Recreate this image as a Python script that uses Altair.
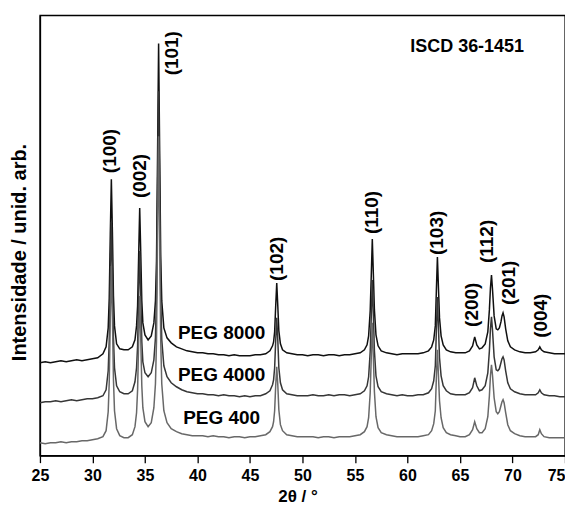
import altair as alt
import pandas as pd

# 2theta grid (degrees)
two_theta = [
    25.0, 25.5, 26.0, 26.5, 27.0, 27.5, 28.0, 28.5, 29.0, 29.5, 30.0, 30.5, 31.0, 31.3, 31.5, 31.6, 31.7, 31.8, 31.9, 32.0,
    32.1, 32.3, 32.6, 33.0, 33.4, 33.8, 34.05, 34.2, 34.3, 34.4, 34.5, 34.6, 34.7, 34.8, 35.0, 35.3, 35.6, 35.85, 36.0, 36.1,
    36.2, 36.3, 36.4, 36.5, 36.6, 36.8, 37.1, 37.5, 38.0, 38.5, 39.0, 39.5, 40.0,
    40.5, 41.0, 41.5, 42.0, 42.5, 43.0, 43.5, 44.0, 44.5, 45.0, 45.5, 46.0, 46.5, 46.9, 47.15, 47.25, 47.35, 47.45, 47.55,
    47.65, 47.75, 47.9, 48.1, 48.5, 49.0, 49.5, 50.0,
    50.5, 51.0, 51.5, 52.0, 52.5, 53.0, 53.5, 54.0, 54.5, 55.0, 55.5, 55.9, 56.15, 56.3, 56.45, 56.55, 56.65, 56.75, 56.85,
    57.0, 57.2, 57.5, 58.0, 58.5, 59.0, 59.5, 60.0,
    60.5, 61.0, 61.5, 62.0, 62.3, 62.5, 62.65, 62.75, 62.85, 62.95, 63.05, 63.2, 63.4, 63.7, 64.1, 64.6, 65.0, 65.5, 65.9,
    66.2, 66.4, 66.6, 66.85, 67.1, 67.4, 67.65, 67.8, 67.9, 68.0, 68.1, 68.25, 68.45, 68.6, 68.75, 68.9, 69.0, 69.1, 69.2,
    69.35, 69.55, 69.8, 70.2, 70.7, 71.2, 71.7, 72.2, 72.45, 72.6, 72.75, 73.0, 73.5, 74.0, 74.5, 75.0,
]

# intensities (arb. units, stacked)
peg8000 = [
    93, 94, 93, 94, 95, 94, 95, 96, 95, 96, 97, 98, 102, 109, 128, 158, 222, 277, 224, 160,
    130, 112, 107, 106, 106, 109, 116, 130, 150, 200, 248, 203, 155, 133, 121, 116, 120, 133, 155, 195,
    300, 413, 305, 200, 155, 128, 118, 113, 109, 107, 105, 104, 103,
    103, 102, 102, 101, 101, 100, 101, 100, 100, 100, 101, 101, 102, 105, 110, 114, 124, 150, 173,
    150, 125, 112, 106, 103, 102, 101, 101,
    100, 101, 101, 100, 101, 101, 100, 101, 101, 102, 103, 106, 111, 120, 145, 180, 217, 182, 146,
    121, 110, 105, 103, 102, 101, 102, 102,
    102, 102, 103, 105, 109, 116, 130, 165, 199, 168, 138, 120, 111, 106, 104, 103, 103, 103, 105,
    110, 119, 111, 107, 108, 112, 124, 146, 168, 181, 166, 140, 127, 126, 128, 134, 140, 143, 139,
    127, 115, 109, 106, 104, 103, 103, 104, 106, 109, 106, 104, 103, 102, 102, 102,
]

peg4000 = [
    53, 54, 54, 55, 54, 55, 56, 55, 56, 57, 57, 58, 60, 66, 85, 115, 180, 234, 182, 118,
    88, 70, 64, 62, 62, 65, 74, 88, 110, 160, 205, 162, 114, 94, 83, 79, 83, 96, 118, 160,
    262, 365, 265, 160, 116, 90, 79, 73, 69, 66, 64, 63, 62,
    62, 61, 61, 60, 61, 60, 60, 59, 60, 59, 60, 60, 62, 65, 71, 76, 88, 115, 138,
    116, 88, 73, 66, 62, 61, 60, 60,
    60, 61, 60, 60, 61, 60, 61, 61, 60, 61, 62, 65, 70, 79, 104, 139, 176, 141, 105,
    80, 69, 64, 62, 61, 60, 61, 60,
    60, 61, 61, 63, 67, 75, 90, 125, 159, 128, 98, 80, 70, 65, 62, 61, 61, 61, 63,
    68, 78, 70, 65, 66, 70, 83, 105, 127, 139, 125, 99, 86, 85, 87, 93, 97, 99, 96,
    85, 73, 67, 64, 62, 61, 61, 61, 63, 66, 63, 61, 60, 60, 59, 59,
]

peg400 = [
    13, 12, 13, 13, 14, 13, 14, 14, 15, 15, 16, 17, 19, 25, 44, 74, 138, 190, 140, 76,
    45, 27, 20, 18, 18, 21, 29, 43, 66, 115, 160, 117, 70, 48, 34, 29, 33, 48, 72, 115,
    220, 320, 222, 116, 72, 45, 33, 27, 24, 22, 21, 20, 20,
    20, 19, 20, 19, 19, 18, 19, 19, 18, 19, 19, 20, 21, 24, 29, 34, 45, 70, 89,
    71, 46, 31, 25, 21, 20, 19, 19,
    19, 19, 18, 19, 19, 18, 19, 19, 19, 20, 21, 24, 29, 38, 63, 98, 133, 99, 64,
    39, 28, 23, 21, 20, 19, 19, 19,
    19, 19, 20, 21, 25, 32, 45, 78, 106, 80, 55, 38, 28, 23, 21, 20, 19, 19, 21,
    26, 34, 27, 23, 23, 27, 39, 60, 80, 91, 80, 58, 44, 42, 44, 50, 54, 56, 53,
    43, 31, 25, 22, 20, 19, 19, 19, 21, 26, 22, 19, 18, 18, 18, 18,
]

series_names = ["PEG 8000", "PEG 4000", "PEG 400"]
series_colors = ["#101010", "#363636", "#686868"]
series_label_x = [42.3, 42.3, 42.3]
series_label_y = [123, 81, 38]

peak_labels = ["(100)", "(002)", "(101)", "(102)", "(110)", "(103)", "(200)", "(112)", "(201)", "(004)"]
peak_label_x = [31.65, 34.5, 37.55, 47.6, 56.65, 62.8, 66.15, 67.6, 69.7, 72.7]
peak_label_y = [283, 258, 381, 175, 222, 201, 129, 193, 151, 118]

ref_text = ["ISCD 36-1451"]
ref_x = [71.1]
ref_y = [409]

rows = []
for name, ys in zip(series_names, [peg8000, peg4000, peg400]):
    for xv, yv in zip(two_theta, ys):
        rows.append({"theta": xv, "I": yv, "series": name})
df = pd.DataFrame(rows)

peaks_df = pd.DataFrame({"label": peak_labels, "theta": peak_label_x, "I": peak_label_y})
slabel_df = pd.DataFrame({"label": series_names, "theta": series_label_x, "I": series_label_y})
ref_df = pd.DataFrame({"label": ref_text, "theta": ref_x, "I": ref_y})

FONT = "Liberation Sans"

x_scale = alt.Scale(domain=[25, 75], nice=False, zero=False)
y_scale = alt.Scale(domain=[0, 441], nice=False, zero=False)

tick_values = [25 + 2.5 * i for i in range(21)]

x_axis = alt.Axis(
    title="2θ / °",
    values=tick_values,
    labelExpr="datum.value % 5 === 0 ? datum.label : ''",
    tickSize={"condition": {"test": "datum.value % 5 === 0", "value": 7}, "value": 4},
    tickColor="black",
    tickWidth=1.3,
    domainColor="black",
    domainWidth=1.4,
    grid=False,
    labelFont=FONT,
    labelFontSize=16,
    labelFontWeight="bold",
    labelColor="black",
    labelPadding=5,
    labelAlign={"condition": {"test": "datum.value >= 75", "value": "right"}, "value": "center"},
    labelFlush=False,
    labelOverlap=False,
    titleFont=FONT,
    titleFontSize=17,
    titleFontWeight="bold",
    titleColor="black",
    titleX=258,
    titleY=41,
    titleBaseline="middle",
)

y_axis = alt.Axis(
    title="Intensidade / unid. arb.",
    labels=False,
    ticks=False,
    grid=False,
    domainColor="black",
    domainWidth=1.4,
    titleFont=FONT,
    titleFontSize=20,
    titleFontWeight="bold",
    titleColor="black",
    titleX=-20,
    titleY=237,
    titleBaseline="middle",
)

lines = alt.Chart(df).mark_line(strokeWidth=1.5).encode(
    x=alt.X("theta:Q", scale=x_scale, axis=x_axis),
    y=alt.Y("I:Q", scale=y_scale, axis=y_axis),
    color=alt.Color("series:N", scale=alt.Scale(domain=series_names, range=series_colors), legend=None),
    order=alt.Order("theta:Q"),
)

peak_text = alt.Chart(peaks_df).mark_text(
    angle=270, align="left", baseline="middle", font=FONT, fontSize=19, fontWeight="bold", color="black"
).encode(x=alt.X("theta:Q", scale=x_scale), y=alt.Y("I:Q", scale=y_scale), text="label:N")

series_text = alt.Chart(slabel_df).mark_text(
    align="center", baseline="middle", font=FONT, fontSize=19, fontWeight="bold", color="black"
).encode(x=alt.X("theta:Q", scale=x_scale), y=alt.Y("I:Q", scale=y_scale), text="label:N")

ref_label = alt.Chart(ref_df).mark_text(
    align="right", baseline="middle", font=FONT, fontSize=18, fontWeight="bold", color="black"
).encode(x=alt.X("theta:Q", scale=x_scale), y=alt.Y("I:Q", scale=y_scale), text="label:N")

chart = alt.layer(lines, peak_text, series_text, ref_label).properties(
    width=526,
    height=441,
    autosize=alt.AutoSizeParams(type="none"),
    padding={"left": 32, "top": 7, "right": 0, "bottom": 51},
    background="white",
).configure_view(stroke="black", strokeWidth=1.4)

chart.save("out.html", embed_options={"renderer": "svg", "actions": False})
